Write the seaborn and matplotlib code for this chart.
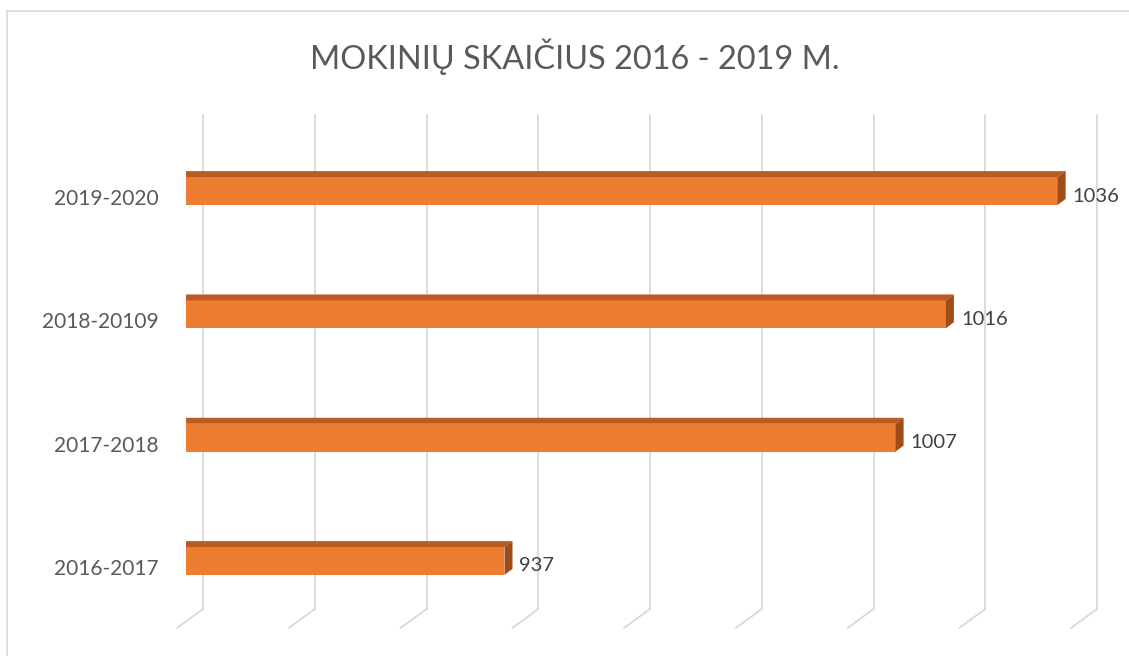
import matplotlib
matplotlib.use("Agg")
import matplotlib.pyplot as plt
import matplotlib.transforms as mtransforms
from matplotlib.patches import Polygon
from matplotlib.lines import Line2D
import seaborn as sns
import pandas as pd

categories = ["2019-2020", "2018-20109", "2017-2018", "2016-2017"]
values = [1036, 1016, 1007, 937]
title = "MOKINIŲ SKAIČIUS 2016 - 2019 M."
x_min, x_max, x_step = 880, 1040, 20

sns.set_theme(style="white")
plt.rcParams["font.family"] = ["Lato", "DejaVu Sans"]

W, H, DPI = 1129, 656, 100
fig = plt.figure(figsize=(W / DPI, H / DPI), dpi=DPI)

def fy(py):
    return 1 - py / H

# axes placement (front plane)
ax_left_px, ax_right_px = 186, 1080
ax_top_px, ax_bot_px = 115, 630
ax = fig.add_axes([ax_left_px / W, fy(ax_bot_px), (ax_right_px - ax_left_px) / W,
                   (ax_bot_px - ax_top_px) / H])

df = pd.DataFrame({"period": categories, "count": values})
front = "#ED7D31"
sns.barplot(data=df, x="count", y="period", orient="h", color=front,
            width=0.225, ax=ax, saturation=1, zorder=3, linewidth=0)

ax.set_xlim(x_min, x_max)
ax.set_ylim(3 + (ax_bot_px - 561) / 123.33, -(191 - ax_top_px) / 123.33)
for s in ax.spines.values():
    s.set_visible(False)
ax.set_xticks([])
ax.set_xlabel("")
ax.set_ylabel("")
ax.tick_params(axis="y", length=0, pad=20, labelsize=15, labelcolor="#595959")
off = mtransforms.ScaledTranslation(0, -0.06, fig.dpi_scale_trans)
for lab in ax.get_yticklabels():
    lab.set_transform(lab.get_transform() + off)
ax.patch.set_alpha(0)

# back-wall gridlines with slanted floor segments
blend = mtransforms.blended_transform_factory(ax.transData, fig.transFigure)
back = blend + mtransforms.ScaledTranslation(0.17, 0, fig.dpi_scale_trans)
floor_end = blend + mtransforms.ScaledTranslation(-0.09, 0, fig.dpi_scale_trans)
grid_c = "#D9D9D9"
for xv in range(x_min, x_max + 1, x_step):
    fig.add_artist(Line2D([xv, xv], [fy(115), fy(609)], transform=back,
                          color=grid_c, lw=1.3, zorder=0))
    p0 = back.transform((xv, fy(609)))
    p1 = floor_end.transform((xv, fy(628)))
    fig.add_artist(Line2D([p0[0] / W, p1[0] / W], [p0[1] / H, p1[1] / H],
                          transform=fig.transFigure, color=grid_c, lw=1.3, zorder=0))

# 3D faces on bars
fig.canvas.draw()
dx, dy = 8, 6  # pixels
inv = ax.transData.inverted()
top_c, side_c = "#BA5C22", "#9E4D19"
for bar in ax.patches:
    x0, y0 = bar.get_x(), bar.get_y()
    x1, y1 = x0 + bar.get_width(), y0 + bar.get_height()
    (X0, Ya), (X1, Yb) = ax.transData.transform([(x0, y0), (x1, y1)])
    Ytop, Ybot = max(Ya, Yb), min(Ya, Yb)
    top = [(X0, Ytop), (X1, Ytop), (X1 + dx, Ytop + dy), (X0 + dx, Ytop + dy)]
    side = [(X1, Ytop), (X1 + dx, Ytop + dy), (X1 + dx, Ybot + dy), (X1, Ybot)]
    ax.add_patch(Polygon(inv.transform(top), closed=True, facecolor=top_c,
                         edgecolor="none", zorder=4))
    ax.add_patch(Polygon(inv.transform(side), closed=True, facecolor=side_c,
                         edgecolor="none", zorder=4))

# value labels
for i, v in enumerate(values):
    ax.annotate(str(v), xy=(v, i), xytext=(15, -5), textcoords="offset pixels",
                ha="left", va="center", fontsize=14.5, color="#404040", zorder=5)

# title
fig.text(575 / W, fy(57), title, ha="center", va="center", fontsize=23.4,
         color="#595959")

# chart frame (top and left edges visible)
fig.add_artist(Line2D([7 / W, 1], [fy(11), fy(11)], transform=fig.transFigure,
                      color="#D9D9D9", lw=1.2))
fig.add_artist(Line2D([7 / W, 7 / W], [fy(11), 0], transform=fig.transFigure,
                      color="#D9D9D9", lw=1.2))

fig.savefig("out.png", dpi=DPI)
